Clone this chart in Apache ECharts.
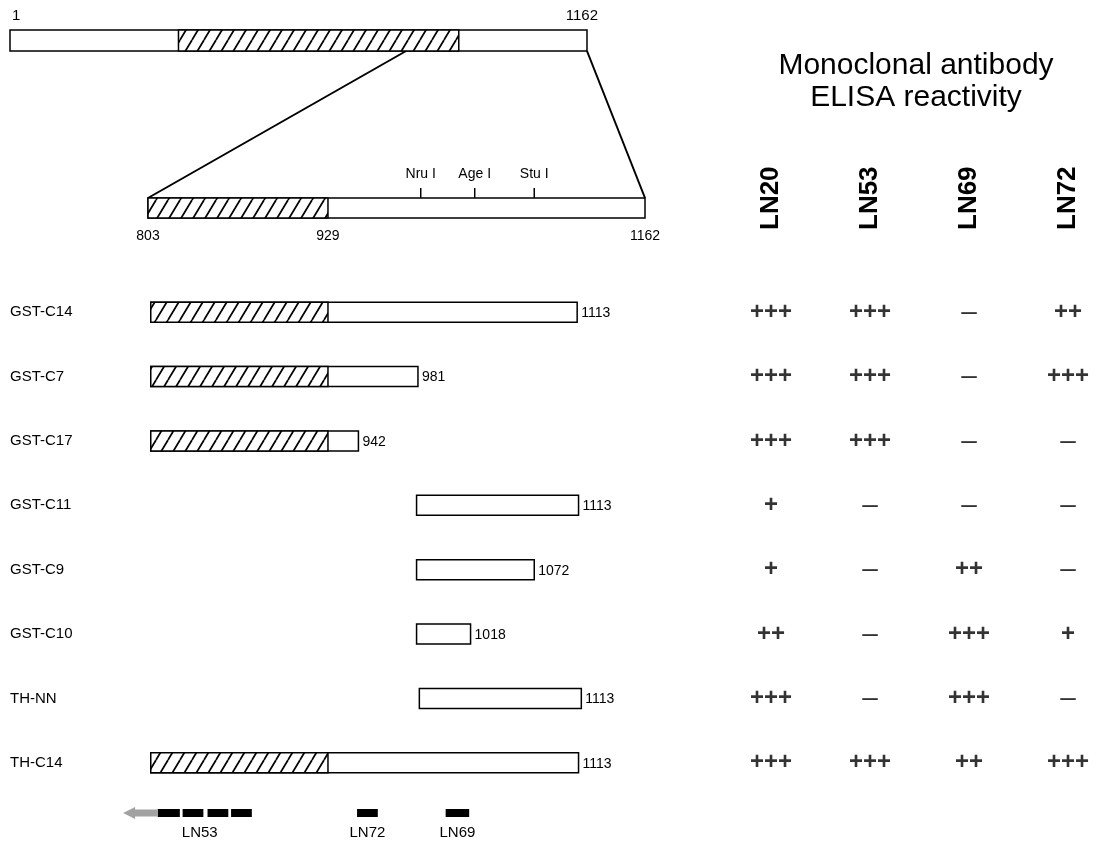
<!DOCTYPE html>
<html><head><meta charset="utf-8">
<script src="https://cdn.jsdelivr.net/npm/echarts@6/dist/echarts.min.js"></script>
<style>html,body{margin:0;padding:0;background:#fff}#c{width:1097px;height:842px}</style>
</head><body><div id="c"></div>
<script>
// ---------- DATA ----------
const proteinLength = 1162;
const fullDomain = [340, 904];            // hatched region on the full-length bar (as drawn)
const fullAnchor = 798;                   // where the expansion line leaves the full bar
const zoomRange = [803, 1162];            // expanded C-terminal region
const zoomDomainEnd = 933;                // hatched part of the expanded region (drawn position)
const zoomTickValues = [803, 933, 1162];
const zoomTickLabels = ['803', '929', '1162'];
const siteNames = ['Nru I', 'Age I', 'Stu I'];
const sitePos = [1000, 1039, 1082];

const constructs = ['GST-C14', 'GST-C7', 'GST-C17', 'GST-C11', 'GST-C9', 'GST-C10', 'TH-NN', 'TH-C14'];
const constructStart = [805, 805, 805, 997, 997, 997, 999, 805];
const constructEnd = [1113, 998, 955, 1114, 1082, 1036, 1116, 1114];
const constructEndLabel = ['1113', '981', '942', '1113', '1072', '1018', '1113', '1113'];

const antibodies = ['LN20', 'LN53', 'LN69', 'LN72'];
// reactivity: 0 = –, 1 = +, 2 = ++, 3 = +++
const reactLN20 = [3, 3, 3, 1, 1, 2, 3, 3];
const reactLN53 = [3, 3, 3, 0, 0, 0, 0, 3];
const reactLN69 = [0, 0, 0, 0, 2, 3, 3, 2];
const reactLN72 = [2, 3, 0, 0, 0, 1, 0, 3];

const epitopeNames = ['LN53', 'LN72', 'LN69'];
const epitopeSegments = [
  [[810, 826], [828, 843], [846, 861], [863, 878]],
  [[954, 969]],
  [[1018, 1035]]
];
const ln53ArrowTip = 785;

// ---------- STYLE ----------
const FONT = 'Liberation Sans, Arial, Helvetica, sans-serif';
function makeHatch() {
  const w = 12, h = 20;
  const c = document.createElement('canvas'); c.width = w; c.height = h;
  const g = c.getContext('2d');
  g.fillStyle = '#fff'; g.fillRect(0, 0, w, h);
  g.strokeStyle = '#000'; g.lineWidth = 1.7;
  for (const dx of [-w, 0, w]) { g.beginPath(); g.moveTo(dx, h); g.lineTo(dx + w, 0); g.stroke(); }
  return c;
}
const hatchFill = { image: makeHatch(), repeat: 'repeat' };
const BAR_H = 20;

const chart = echarts.init(document.getElementById('c'), null, { renderer: 'canvas' });

const rowTop = 280, rowHeight = 515;
const hiddenAxis = (extra) => Object.assign({ show: false }, extra);
const titleGraphic = { type: 'text', x: 916, y: 82, style: { text: 'Monoclonal antibody\nELISA reactivity', font: '30px ' + FONT, lineHeight: 32, fill: '#000', align: 'center', verticalAlign: 'middle' } };

const option = {
  backgroundColor: '#fff',
  animation: false,
  textStyle: { fontFamily: FONT, color: '#000' },
  grid: [
    { left: 10, width: 577, top: 30, height: 21 },          // 0 full-length bar
    { left: 148, right: 452, top: 198, height: 20 },       // 1 expanded region
    { left: 148, right: 452, top: rowTop, height: rowHeight }, // 2 constructs
    { left: 148, right: 452, top: 809, height: 8 },        // 3 epitopes
    { left: 771, right: 29, top: rowTop, height: rowHeight }   // 4 table
  ],
  xAxis: [
    hiddenAxis({ type: 'value', gridIndex: 0, min: 1, max: proteinLength }),
    hiddenAxis({ type: 'value', gridIndex: 1, min: zoomRange[0], max: zoomRange[1] }),
    hiddenAxis({ type: 'value', gridIndex: 2, min: zoomRange[0], max: zoomRange[1] }),
    hiddenAxis({ type: 'value', gridIndex: 3, min: zoomRange[0], max: zoomRange[1] }),
    {
      type: 'category', gridIndex: 4, data: antibodies, position: 'top', boundaryGap: false,
      axisLine: { show: false }, axisTick: { show: false }, splitLine: { show: false },
      axisLabel: { rotate: -90, margin: 50, fontSize: 26, fontWeight: 'bold', color: '#000', fontFamily: FONT }
    }
  ],
  yAxis: [
    hiddenAxis({ type: 'value', gridIndex: 0, min: 0, max: 1 }),
    hiddenAxis({ type: 'value', gridIndex: 1, min: 0, max: 1 }),
    {
      type: 'category', gridIndex: 2, data: constructs, inverse: true,
      axisLine: { show: false }, axisTick: { show: false }, splitLine: { show: false },
      axisLabel: { align: 'left', margin: 138, fontSize: 15, color: '#000', fontFamily: FONT }
    },
    hiddenAxis({ type: 'value', gridIndex: 3, min: 0, max: 1 }),
    hiddenAxis({ type: 'category', gridIndex: 4, data: constructs, inverse: true })
  ],
  series: [
    // full-length protein
    {
      type: 'custom', xAxisIndex: 0, yAxisIndex: 0, data: [[1, proteinLength]],
      renderItem(params, api) {
        const a = api.coord([api.value(0), 1]);
        const b = api.coord([api.value(1), 0]);
        const h1 = api.coord([fullDomain[0], 1]);
        const h2 = api.coord([fullDomain[1], 0]);
        return { type: 'group', children: [
          { type: 'rect', shape: { x: a[0], y: a[1], width: b[0] - a[0], height: b[1] - a[1] },
            style: { fill: '#fff', stroke: '#000', lineWidth: 1.5 } },
          { type: 'rect', shape: { x: h1[0], y: h1[1], width: h2[0] - h1[0], height: h2[1] - h1[1] },
            style: { fill: hatchFill, stroke: '#000', lineWidth: 1.5 } },
          { type: 'text', x: a[0] + 2, y: a[1] - 14, style: { text: '1', font: '15px ' + FONT, fill: '#000', align: 'left', verticalAlign: 'middle' } },
          { type: 'text', x: b[0] + 11, y: a[1] - 14, style: { text: String(proteinLength), font: '15px ' + FONT, fill: '#000', align: 'right', verticalAlign: 'middle' } }
        ] };
      }
    },
    // expanded region with restriction sites
    {
      type: 'custom', xAxisIndex: 1, yAxisIndex: 1, data: [[zoomRange[0], zoomRange[1]]],
      renderItem(params, api) {
        const a = api.coord([api.value(0), 1]);
        const b = api.coord([api.value(1), 0]);
        const h2 = api.coord([zoomDomainEnd, 0]);
        const kids = [
          { type: 'rect', shape: { x: a[0], y: a[1], width: b[0] - a[0], height: b[1] - a[1] },
            style: { fill: '#fff', stroke: '#000', lineWidth: 1.5 } },
          { type: 'rect', shape: { x: a[0], y: a[1], width: h2[0] - a[0], height: b[1] - a[1] },
            style: { fill: hatchFill, stroke: '#000', lineWidth: 1.5 } }
        ];
        zoomTickValues.forEach((v, i) => {
          const p = api.coord([v, 0]);
          kids.push({ type: 'text', x: p[0], y: p[1] + 18, style: { text: zoomTickLabels[i], font: '14px ' + FONT, fill: '#000', align: 'center', verticalAlign: 'middle' } });
        });
        sitePos.forEach((v, i) => {
          const p = api.coord([v, 1]);
          kids.push({ type: 'line', shape: { x1: p[0], y1: p[1], x2: p[0], y2: p[1] - 10 }, style: { stroke: '#000', lineWidth: 1.5 } });
          kids.push({ type: 'text', x: p[0], y: p[1] - 24, style: { text: siteNames[i], font: '14px ' + FONT, fill: '#000', align: 'center', verticalAlign: 'middle' } });
        });
        return { type: 'group', children: kids };
      }
    },
    // deletion constructs
    {
      type: 'custom', xAxisIndex: 2, yAxisIndex: 2,
      data: constructs.map((c, i) => [constructStart[i], constructEnd[i], i]),
      encode: { x: [0, 1], y: 2 },
      renderItem(params, api) {
        const i = params.dataIndex;
        const s = api.value(0), e = api.value(1);
        const c = api.coord([s, api.value(2)]);
        const ep = api.coord([e, api.value(2)]);
        const y = c[1] - BAR_H / 2;
        const kids = [
          { type: 'rect', shape: { x: c[0], y, width: ep[0] - c[0], height: BAR_H },
            style: { fill: '#fff', stroke: '#000', lineWidth: 1.5 } }
        ];
        if (s < zoomDomainEnd) {
          const hp = api.coord([Math.min(e, zoomDomainEnd), api.value(2)]);
          kids.push({ type: 'rect', shape: { x: c[0], y, width: hp[0] - c[0], height: BAR_H },
            style: { fill: hatchFill, stroke: '#000', lineWidth: 1.5 } });
        }
        kids.push({ type: 'text', x: ep[0] + 4, y: c[1] + 1, style: { text: constructEndLabel[i], font: '14px ' + FONT, fill: '#000', align: 'left', verticalAlign: 'middle' } });
        return { type: 'group', children: kids };
      }
    },
    // epitope map
    {
      type: 'custom', xAxisIndex: 3, yAxisIndex: 3,
      data: epitopeNames.map((n, i) => [epitopeSegments[i][0][0], epitopeSegments[i][epitopeSegments[i].length - 1][1], i]),
      encode: { x: [0, 1] },
      renderItem(params, api) {
        const i = params.dataIndex;
        const kids = [];
        epitopeSegments[i].forEach(seg => {
          const a = api.coord([seg[0], 1]);
          const b = api.coord([seg[1], 0]);
          kids.push({ type: 'rect', shape: { x: a[0], y: a[1], width: b[0] - a[0], height: b[1] - a[1] }, style: { fill: '#000' } });
        });
        const a = api.coord([api.value(0), 1]);
        const b = api.coord([api.value(1), 0]);
        if (i === 0) {
          const t = api.coord([ln53ArrowTip, 0.5]);
          const ym = t[1];
          kids.push({ type: 'polygon', shape: { points: [
            [t[0], ym], [t[0] + 12, ym - 6], [t[0] + 12, ym - 3.5], [a[0], ym - 3.5],
            [a[0], ym + 3.5], [t[0] + 12, ym + 3.5], [t[0] + 12, ym + 6]
          ] }, style: { fill: '#a2a2a2' } });
        }
        kids.push({ type: 'text', x: (a[0] + b[0]) / 2 - (i === 0 ? 5 : 0), y: b[1] + 16, style: { text: epitopeNames[i], font: '15px ' + FONT, fill: '#000', align: 'center', verticalAlign: 'middle' } });
        return { type: 'group', children: kids };
      }
    },
    // ELISA reactivity table
    {
      type: 'scatter', xAxisIndex: 4, yAxisIndex: 4, symbolSize: 0, silent: true,
      data: [reactLN20, reactLN53, reactLN69, reactLN72].flatMap((col, ci) => col.map((v, ri) => [ci, ri, v])),
      label: {
        show: true, position: 'inside', color: '#000', fontFamily: FONT,
        formatter: p => p.value[2] === 0 ? '{d|–}' : '{p|' + '+'.repeat(p.value[2]) + '}',
        rich: {
          p: { fontSize: 24, fontWeight: 'bold', color: '#000', fontFamily: FONT },
          d: { fontSize: 28, fontWeight: 'normal', color: '#000', fontFamily: FONT }
        }
      }
    }
  ],
  graphic: [titleGraphic]
};
chart.setOption(option);

// expansion lines linking the full-length bar with the expanded region
const p1 = chart.convertToPixel({ gridIndex: 0 }, [fullAnchor, 0]);
const p2 = chart.convertToPixel({ gridIndex: 1 }, [zoomRange[0], 1]);
const p3 = chart.convertToPixel({ gridIndex: 0 }, [proteinLength, 0]);
const p4 = chart.convertToPixel({ gridIndex: 1 }, [zoomRange[1], 1]);
chart.setOption({ graphic: [
  titleGraphic,
  { type: 'line', shape: { x1: p1[0], y1: p1[1], x2: p2[0], y2: p2[1] }, style: { stroke: '#000', lineWidth: 2 } },
  { type: 'line', shape: { x1: p3[0], y1: p3[1], x2: p4[0], y2: p4[1] }, style: { stroke: '#000', lineWidth: 2 } }
] });
</script></body></html>
